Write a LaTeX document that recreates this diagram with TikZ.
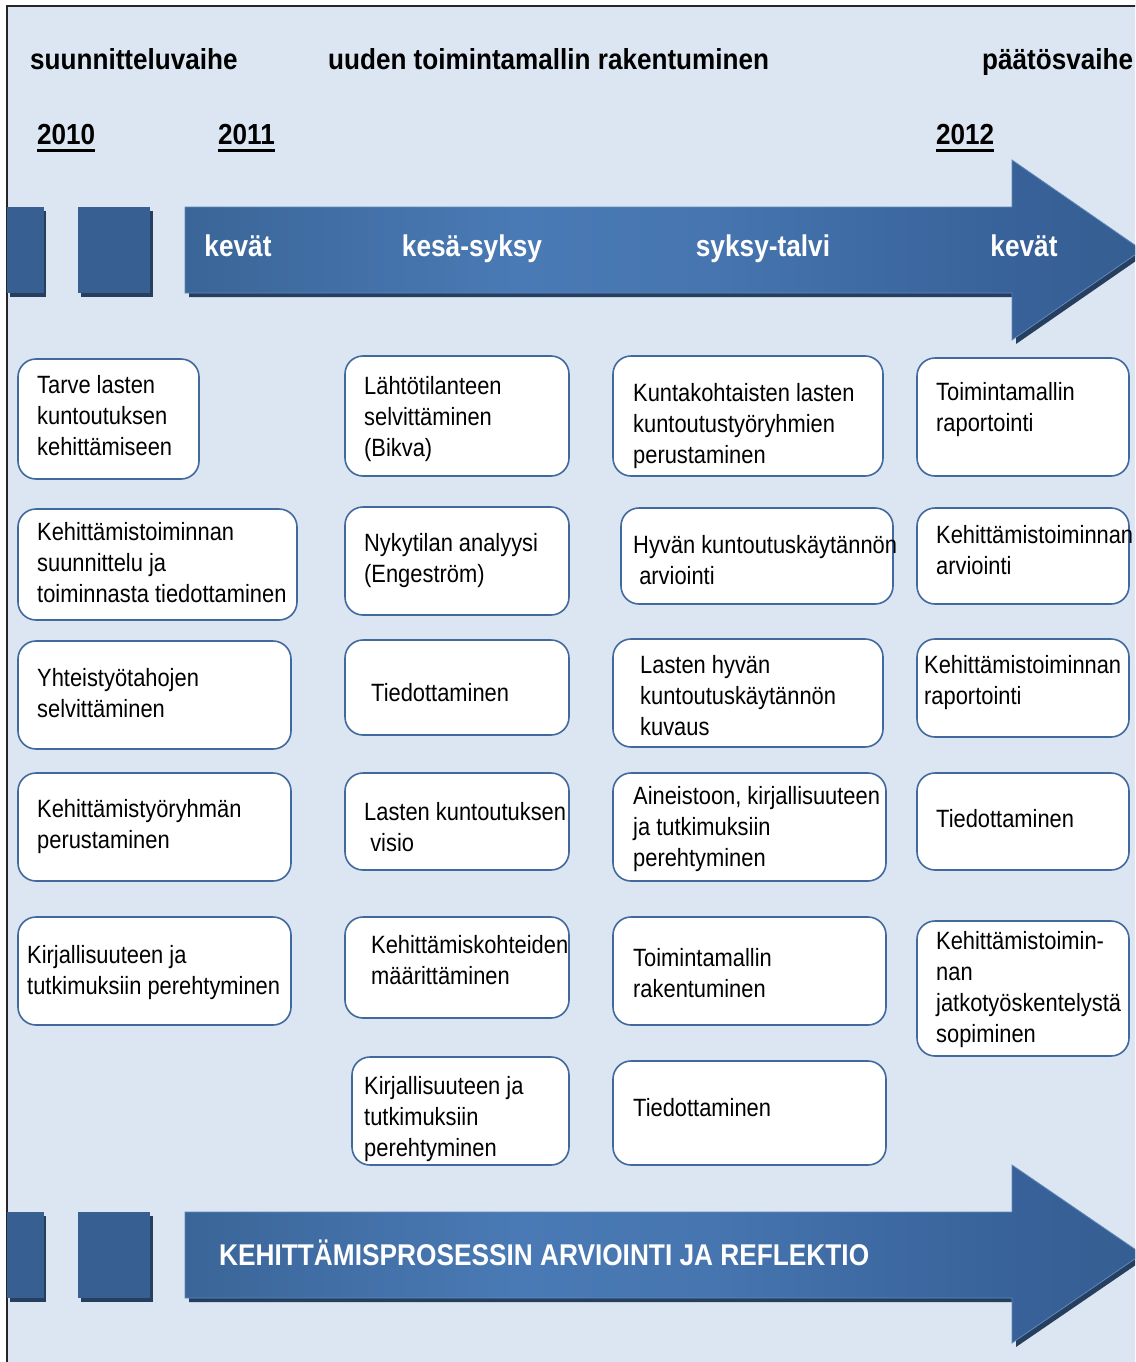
\documentclass[tikz,border=0pt]{standalone}
\usepackage{fontspec}
\setmainfont[FakeStretch=0.875]{Liberation Sans}
\newfontfamily\headfam[FakeStretch=0.9]{Liberation Sans}
\usetikzlibrary{fit}

\definecolor{pagebg}{HTML}{DCE6F2}
\definecolor{cardedge}{HTML}{41699E}
\definecolor{barL}{HTML}{3A6598}
\definecolor{barM}{HTML}{4A7AB5}
\definecolor{barM2}{HTML}{4675AF}
\definecolor{barD}{HTML}{38629A}
\definecolor{barR}{HTML}{355E92}
\definecolor{blockfill}{HTML}{375F91}
\definecolor{barshadow}{HTML}{263F5F}
\definecolor{baredge}{HTML}{6088BC}

% light band in the middle of the timeline arrows
\pgfdeclarehorizontalshading{barshade}{100bp}{%
  color(0bp)=(barL); color(25bp)=(barL); color(42.5bp)=(barM);
  color(52.5bp)=(barM2); color(67.5bp)=(barD); color(75bp)=(barR);
  color(100bp)=(barR)}

\newcommand\boxfont{\fontsize{25}{31}\selectfont}
\newcommand\headfont{\headfam\fontsize{29}{34}\selectfont\bfseries}
\newcommand\barfont{\fontsize{30}{34}\selectfont\bfseries}

\tikzset{
  card/.style={draw=cardedge, line width=1.6pt, fill=white,
    rounded corners=18pt, inner sep=0pt},
  txt/.style={align=left, inner sep=0pt, font=\boxfont},
  head/.style={inner sep=0pt, font=\headfont, anchor=base west},
  bartext/.style={inner sep=0pt, font=\barfont, text=white, anchor=base},
  block/.style={fill=blockfill},
  blockshadow/.style={fill=barshadow},
}

% one timeline: two square blocks and the long arrow, body from y=#1 to #2,
% arrow head from y=#3 to #4
\newcommand\timeline[4]{%
  \fill[blockshadow] (10,#1+4) rectangle (46,#2+4);
  \fill[block] (7,#1) rectangle (44,#2);
  \fill[blockshadow] (81,#1+4) rectangle (153,#2+4);
  \fill[block] (78,#1) rectangle (150,#2);
  \fill[blockshadow] (189,#1+4) -- (1016,#1+4) -- (1016,#3+4) -- (1146,{(#3+#4)/2+4})
     -- (1016,#4+4) -- (1016,#2+4) -- (189,#2+4) -- cycle;
  \path[shading=barshade, shading angle=0, draw=baredge, line width=0.8pt]
     (185,#1) -- (1012,#1) -- (1012,#3) -- (1142,{(#3+#4)/2})
     -- (1012,#4) -- (1012,#2) -- (185,#2) -- cycle;
}

\begin{document}
\begin{tikzpicture}[x=1pt,y=-1pt]
\useasboundingbox (0,0) rectangle (1135,1362);
\clip (0,0) rectangle (1135,1362);
\fill[white] (0,0) rectangle (1135,1362);
\filldraw[fill=pagebg, draw=black!85, line width=2pt] (7,6) rectangle (1150,1380);

% phase headings and years
\node[head] (ph1) at (30,70) {suunnitteluvaihe};
\node[head] (ph2) at (328,70) {uuden toimintamallin rakentuminen};
\node[head] (ph3) at (982,70) {päätösvaihe};
\node[head] (y10) at (37,145) {2010};
\node[head] (y11) at (218,145) {2011};
\node[head] (y12) at (936,145) {2012};
\foreach \y in {y10,y11,y12}
  \draw[line width=3pt] ([yshift=-5pt]\y.base west) -- ([yshift=-5pt]\y.base east);

% upper timeline with seasons
\timeline{207}{293}{160}{340}
\node[bartext] (s1) at (238,256) {kevät};
\node[bartext] (s2) at (472,256) {kesä-syksy};
\node[bartext] (s3) at (763,256) {syksy-talvi};
\node[bartext] (s4) at (1024,256) {kevät};

% column 1
\node[card, fit={(18,359) (199,479)}] (a1) {};
\node[txt, anchor=west] (a1t) at (37,416) {Tarve lasten\\kuntoutuksen\\kehittämiseen};
\node[card, fit={(18,509) (297,620)}] (a2) {};
\node[txt, anchor=west] (a2t) at (37,563) {Kehittämistoiminnan\\suunnittelu ja\\toiminnasta tiedottaminen};
\node[card, fit={(18,641) (291,749)}] (a3) {};
\node[txt, anchor=west] (a3t) at (37,693) {Yhteistyötahojen\\selvittäminen};
\node[card, fit={(18,773) (291,881)}] (a4) {};
\node[txt, anchor=west] (a4t) at (37,827) {Kehittämistyöryhmän\\perustaminen};
\node[card, fit={(18,917) (291,1025)}] (a5) {};
\node[txt, anchor=west] (a5t) at (27,973) {Kirjallisuuteen ja\\tutkimuksiin perehtyminen};

% column 2
\node[card, fit={(345,356) (569,476)}] (b1) {};
\node[txt, anchor=west] (b1t) at (364,419) {Lähtötilanteen\\selvittäminen\\(Bikva)};
\node[card, fit={(345,507) (569,615)}] (b2) {};
\node[txt, anchor=west] (b2t) at (364,561) {Nykytilan analyysi\\(Engeström)};
\node[card, fit={(345,640) (569,735)}] (b3) {};
\node[txt, anchor=west] (b3t) at (371,693) {Tiedottaminen};
\node[card, fit={(345,773) (569,870)}] (b4) {};
\node[txt, anchor=west] (b4t) at (364,827) {Lasten kuntoutuksen\\\ visio};
\node[card, fit={(345,917) (569,1018)}] (b5) {};
\node[txt, anchor=west] (b5t) at (371,960) {Kehittämiskohteiden\\määrittäminen};
\node[card, fit={(352,1057) (569,1165)}] (b6) {};
\node[txt, anchor=west] (b6t) at (364,1119) {Kirjallisuuteen ja\\tutkimuksiin\\perehtyminen};

% column 3
\node[card, fit={(613,356) (883,476)}] (c1) {};
\node[txt, anchor=west] (c1t) at (633,426) {Kuntakohtaisten lasten\\kuntoutustyöryhmien\\perustaminen};
\node[card, fit={(621,508) (893,604)}] (c2) {};
\node[txt, anchor=west] (c2t) at (633,560) {Hyvän kuntoutuskäytännön\\\ arviointi};
\node[card, fit={(613,639) (883,747)}] (c3) {};
\node[txt, anchor=west] (c3t) at (640,696) {Lasten hyvän\\kuntoutuskäytännön\\kuvaus};
\node[card, fit={(613,773) (886,881)}] (c4) {};
\node[txt, anchor=west] (c4t) at (633,829) {Aineistoon, kirjallisuuteen\\ja tutkimuksiin\\perehtyminen};
\node[card, fit={(613,917) (886,1025)}] (c5) {};
\node[txt, anchor=west] (c5t) at (633,973) {Toimintamallin\\rakentuminen};
\node[card, fit={(613,1061) (886,1165)}] (c6) {};
\node[txt, anchor=west] (c6t) at (633,1108) {Tiedottaminen};

% column 4
\node[card, fit={(917,358) (1129,476)}] (d1) {};
\node[txt, anchor=west] (d1t) at (936,410) {Toimintamallin\\raportointi};
\node[card, fit={(917,508) (1129,604)}] (d2) {};
\node[txt, anchor=west] (d2t) at (936,550) {Kehittämistoiminnan\\arviointi};
\node[card, fit={(917,639) (1129,737)}] (d3) {};
\node[txt, anchor=west] (d3t) at (924,683) {Kehittämistoiminnan\\raportointi};
\node[card, fit={(917,773) (1129,870)}] (d4) {};
\node[txt, anchor=west] (d4t) at (936,819) {Tiedottaminen};
\node[card, fit={(917,921) (1129,1056)}] (d5) {};
\node[txt, anchor=west] (d5t) at (936,990) {Kehittämistoimin-\\nan\\jatkotyöskentelystä\\sopiminen};

% lower timeline
\timeline{1212}{1298}{1165}{1343}
\node[bartext, anchor=base west] (eval) at (219,1265) {KEHITTÄMISPROSESSIN ARVIOINTI JA REFLEKTIO};
\end{tikzpicture}
\end{document}
